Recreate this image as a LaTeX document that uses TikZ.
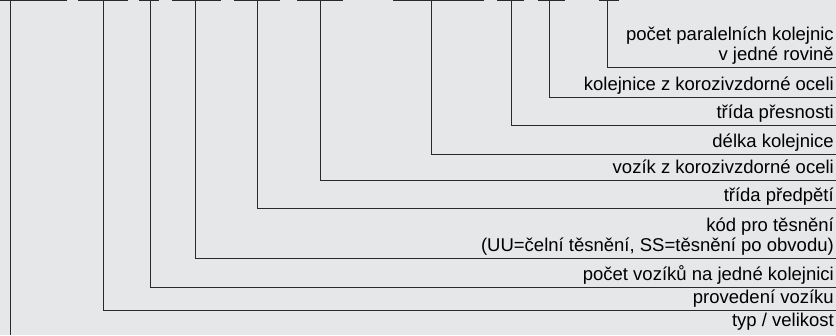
\documentclass[tikz,border=0pt]{standalone}
\usepackage{fontspec}
\setmainfont{Liberation Sans}
\definecolor{bgpanel}{HTML}{E6E7E9}
\definecolor{leadline}{HTML}{2A2A2C}
\begin{document}
\begin{tikzpicture}[x=1pt, y=-1pt,
    lead/.style={draw=leadline, line width=1pt},
    codebar/.style={draw=leadline, line width=1.3pt},
    desc/.style={anchor=base east, inner sep=0pt, align=right,
        font=\fontsize{18.5}{20.5}\selectfont}]
    % Background
    \fill [bgpanel] (0, 0) rectangle (836, 335);
    \useasboundingbox (0, 0) rectangle (836, 335);

    % Code fields along the top edge
    \foreach \a/\b in {0/67, 78/128, 139/159, 172/221, 234/280, 297/343,
                       393/484, 497/524, 538/565, 599/619}
        \draw [codebar] (\a, 0.6) -- (\b, 0.6);

    % Leaders to the descriptions
    \foreach \x/\y/\name/\txt in {
        607/67/parallel/{počet paralelních kolejnic\\v jedné rovině},
        549/97/railss/{kolejnice z korozivzdorné oceli},
        511/125/accuracy/{třída přesnosti},
        431/154/length/{délka kolejnice},
        320/180/carriagess/{vozík z korozivzdorné oceli},
        257/208/preload/{třída předpětí},
        195.5/258/seal/{kód pro těsnění\\(UU=čelní těsnění, SS=těsnění po obvodu)},
        150/287/count/{počet vozíků na jedné kolejnici},
        103/310/design/{provedení vozíku}}
    {
        \coordinate (top-\name) at (\x, 0);
        \coordinate (end-\name) at (836, \y);
        \node [desc] (\name) at (834, \y - 6.5) {\txt};
        \draw [lead] (top-\name) |- (end-\name);
    }

    \coordinate (top-size) at (10.5, 0);
    \coordinate (end-size) at (10.5, 335);
    \node [desc] (size) at (834, 326) {typ / velikost};
    \draw [lead] (top-size) -- (end-size);

\end{tikzpicture}
\end{document}
